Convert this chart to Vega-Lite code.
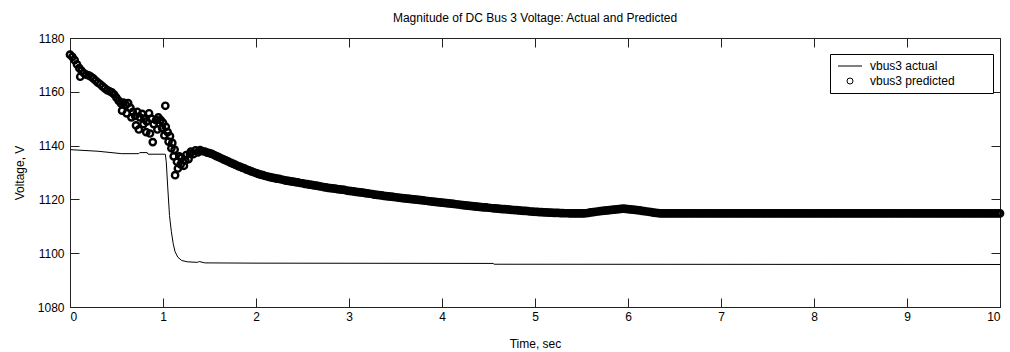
{
  "$schema": "https://vega.github.io/schema/vega-lite/v6.json",
  "width": 930,
  "height": 269,
  "autosize": "none",
  "padding": {"left": 70, "top": 38, "right": 10, "bottom": 45},
  "background": "white",
  "title": {"text": "Magnitude of DC Bus 3 Voltage: Actual and Predicted", "fontSize": 12, "fontWeight": "normal", "font": "Liberation Sans", "color": "#000", "offset": 7, "anchor": "middle"},
  "config": {
    "view": {"stroke": "#222", "strokeWidth": 1},
    "axis": {"grid": false, "domainColor": "#222", "tickColor": "#222", "labelFont": "Liberation Sans", "labelFontSize": 12, "labelColor": "#000", "titleFont": "Liberation Sans", "titleFontSize": 12, "titleFontWeight": "normal", "titleColor": "#000"}
  },
  "datasets": {
    "actual": [
      {"t": 0, "v": 1138.5}, {"t": 0.3, "v": 1137.9}, {"t": 0.556, "v": 1137.0}, {"t": 0.74, "v": 1137.0}, {"t": 0.75, "v": 1137.4}, {"t": 0.83, "v": 1137.4}, {"t": 0.84, "v": 1136.8}, {"t": 1.025, "v": 1136.8},
      {"t": 1.035, "v": 1134}, {"t": 1.05, "v": 1125}, {"t": 1.07, "v": 1114}, {"t": 1.09, "v": 1108}, {"t": 1.11, "v": 1103.5}, {"t": 1.13, "v": 1100.5}, {"t": 1.16, "v": 1098.5}, {"t": 1.2, "v": 1097.3}, {"t": 1.26, "v": 1096.8}, {"t": 1.37, "v": 1096.6}, {"t": 1.39, "v": 1096.9}, {"t": 1.45, "v": 1096.4}, {"t": 2, "v": 1096.3}, {"t": 4.55, "v": 1096.2}, {"t": 4.56, "v": 1095.9}, {"t": 10, "v": 1095.8}
    ],
    "predicted": [
      {"t":0.000,"v":1173.8},{"t":0.025,"v":1173.0},{"t":0.050,"v":1171.8},{"t":0.075,"v":1170.2},{"t":0.100,"v":1168.8},{"t":0.110,"v":1165.6},{"t":0.125,"v":1167.8},{"t":0.150,"v":1166.9},{"t":0.175,"v":1166.4},{"t":0.200,"v":1166.1},
      {"t":0.225,"v":1165.6},{"t":0.250,"v":1165.0},{"t":0.275,"v":1164.2},{"t":0.300,"v":1163.4},{"t":0.325,"v":1162.8},{"t":0.350,"v":1162.0},{"t":0.375,"v":1161.3},{"t":0.400,"v":1160.6},{"t":0.425,"v":1160.2},{"t":0.450,"v":1159.8},
      {"t":0.475,"v":1159.0},{"t":0.500,"v":1157.8},{"t":0.525,"v":1156.6},{"t":0.550,"v":1155.6},{"t":0.560,"v":1153.0},{"t":0.575,"v":1156.0},{"t":0.600,"v":1155.2},{"t":0.610,"v":1152.0},{"t":0.625,"v":1155.8},{"t":0.650,"v":1154.0},
      {"t":0.660,"v":1150.5},{"t":0.675,"v":1152.5},{"t":0.700,"v":1151.0},{"t":0.710,"v":1147.5},{"t":0.725,"v":1152.5},{"t":0.740,"v":1146.0},{"t":0.750,"v":1150.5},{"t":0.775,"v":1151.8},{"t":0.790,"v":1148.0},{"t":0.800,"v":1150.0},
      {"t":0.820,"v":1145.0},{"t":0.825,"v":1149.0},{"t":0.850,"v":1152.0},{"t":0.860,"v":1144.5},{"t":0.875,"v":1150.0},{"t":0.890,"v":1141.3},{"t":0.900,"v":1148.0},{"t":0.925,"v":1149.5},{"t":0.940,"v":1146.0},{"t":0.950,"v":1150.5},
      {"t":0.975,"v":1149.5},{"t":0.990,"v":1146.5},{"t":1.000,"v":1148.5},{"t":1.015,"v":1143.8},{"t":1.025,"v":1154.8},{"t":1.030,"v":1147.0},{"t":1.050,"v":1145.0},{"t":1.060,"v":1141.5},{"t":1.075,"v":1143.5},{"t":1.090,"v":1139.0},
      {"t":1.100,"v":1141.0},{"t":1.115,"v":1136.0},{"t":1.125,"v":1138.5},{"t":1.130,"v":1129.0},{"t":1.150,"v":1134.0},{"t":1.160,"v":1131.5},{"t":1.175,"v":1136.0},{"t":1.190,"v":1133.0},{"t":1.200,"v":1135.5},{"t":1.225,"v":1132.5},
      {"t":1.240,"v":1134.5},{"t":1.250,"v":1136.5},{"t":1.275,"v":1135.0},{"t":1.290,"v":1137.0},{"t":1.300,"v":1137.8},{"t":1.325,"v":1136.8},{"t":1.350,"v":1138.2},{"t":1.375,"v":1137.5},{"t":1.400,"v":1138.3},{"t":1.425,"v":1137.9},
      {"t":1.450,"v":1137.8},{"t":1.475,"v":1137.4},
      {"t":1.500,"v":1137.2},{"t":1.525,"v":1136.9},{"t":1.550,"v":1136.5},{"t":1.575,"v":1136.1},{"t":1.600,"v":1135.7},{"t":1.625,"v":1135.3},{"t":1.650,"v":1134.9},{"t":1.675,"v":1134.5},{"t":1.700,"v":1134.1},{"t":1.725,"v":1133.7},
      {"t":1.750,"v":1133.3},{"t":1.775,"v":1132.9},{"t":1.800,"v":1132.5},{"t":1.825,"v":1132.2},{"t":1.850,"v":1131.8},{"t":1.875,"v":1131.5},{"t":1.900,"v":1131.1},{"t":1.925,"v":1130.8},{"t":1.950,"v":1130.4},{"t":1.975,"v":1130.1},
      {"t":2.000,"v":1129.8},{"t":2.025,"v":1129.5},{"t":2.050,"v":1129.2},{"t":2.075,"v":1129.0},{"t":2.100,"v":1128.7},{"t":2.125,"v":1128.5},{"t":2.150,"v":1128.3},{"t":2.175,"v":1128.1},{"t":2.200,"v":1127.9},{"t":2.225,"v":1127.7},
      {"t":2.250,"v":1127.6},{"t":2.275,"v":1127.4},{"t":2.300,"v":1127.2},{"t":2.325,"v":1127.0},{"t":2.350,"v":1126.9},{"t":2.375,"v":1126.7},{"t":2.400,"v":1126.6},{"t":2.425,"v":1126.4},{"t":2.450,"v":1126.3},{"t":2.475,"v":1126.1},
      {"t":2.500,"v":1126.0},{"t":2.525,"v":1125.8},{"t":2.550,"v":1125.7},{"t":2.575,"v":1125.5},{"t":2.600,"v":1125.4},{"t":2.625,"v":1125.2},{"t":2.650,"v":1125.1},{"t":2.675,"v":1124.9},{"t":2.700,"v":1124.8},{"t":2.725,"v":1124.6},
      {"t":2.750,"v":1124.5},{"t":2.775,"v":1124.3},{"t":2.800,"v":1124.2},{"t":2.825,"v":1124.1},{"t":2.850,"v":1124.0},{"t":2.875,"v":1123.8},{"t":2.900,"v":1123.7},{"t":2.925,"v":1123.6},{"t":2.950,"v":1123.5},{"t":2.975,"v":1123.3},
      {"t":3.000,"v":1123.2},{"t":3.025,"v":1123.1},{"t":3.050,"v":1123.0},{"t":3.075,"v":1122.8},{"t":3.100,"v":1122.7},{"t":3.125,"v":1122.6},{"t":3.150,"v":1122.5},{"t":3.175,"v":1122.3},{"t":3.200,"v":1122.2},{"t":3.225,"v":1122.1},
      {"t":3.250,"v":1122.0},{"t":3.275,"v":1121.8},{"t":3.300,"v":1121.7},{"t":3.325,"v":1121.6},{"t":3.350,"v":1121.5},{"t":3.375,"v":1121.3},{"t":3.400,"v":1121.2},{"t":3.425,"v":1121.1},{"t":3.450,"v":1121.0},{"t":3.475,"v":1120.9},
      {"t":3.500,"v":1120.8},{"t":3.525,"v":1120.7},{"t":3.550,"v":1120.6},{"t":3.575,"v":1120.5},{"t":3.600,"v":1120.4},{"t":3.625,"v":1120.3},{"t":3.650,"v":1120.2},{"t":3.675,"v":1120.1},{"t":3.700,"v":1120.0},{"t":3.725,"v":1119.9},
      {"t":3.750,"v":1119.8},{"t":3.775,"v":1119.7},{"t":3.800,"v":1119.6},{"t":3.825,"v":1119.5},{"t":3.850,"v":1119.4},{"t":3.875,"v":1119.3},{"t":3.900,"v":1119.2},{"t":3.925,"v":1119.1},{"t":3.950,"v":1119.0},{"t":3.975,"v":1118.9},
      {"t":4.000,"v":1118.8},{"t":4.025,"v":1118.7},{"t":4.050,"v":1118.6},{"t":4.075,"v":1118.5},{"t":4.100,"v":1118.4},{"t":4.125,"v":1118.3},{"t":4.150,"v":1118.2},{"t":4.175,"v":1118.1},{"t":4.200,"v":1118.0},{"t":4.225,"v":1117.9},
      {"t":4.250,"v":1117.8},{"t":4.275,"v":1117.7},{"t":4.300,"v":1117.6},{"t":4.325,"v":1117.5},{"t":4.350,"v":1117.4},{"t":4.375,"v":1117.3},{"t":4.400,"v":1117.2},{"t":4.425,"v":1117.1},{"t":4.450,"v":1117.05},{"t":4.475,"v":1117.0},
      {"t":4.500,"v":1116.9},{"t":4.525,"v":1116.8},{"t":4.550,"v":1116.7},{"t":4.575,"v":1116.65},{"t":4.600,"v":1116.6},{"t":4.625,"v":1116.5},{"t":4.650,"v":1116.4},{"t":4.675,"v":1116.35},{"t":4.700,"v":1116.3},{"t":4.725,"v":1116.2},
      {"t":4.750,"v":1116.1},{"t":4.775,"v":1116.05},{"t":4.800,"v":1116.0},{"t":4.825,"v":1115.9},{"t":4.850,"v":1115.8},{"t":4.875,"v":1115.75},{"t":4.900,"v":1115.7},{"t":4.925,"v":1115.6},{"t":4.950,"v":1115.5},{"t":4.975,"v":1115.45},
      {"t":5.000,"v":1115.4},{"t":5.025,"v":1115.35},{"t":5.050,"v":1115.3},{"t":5.075,"v":1115.25},{"t":5.100,"v":1115.2},{"t":5.125,"v":1115.15},{"t":5.150,"v":1115.1},{"t":5.175,"v":1115.05},{"t":5.200,"v":1115.0},{"t":5.225,"v":1115.0},
      {"t":5.250,"v":1114.95},{"t":5.275,"v":1114.9},{"t":5.300,"v":1114.9},{"t":5.325,"v":1114.85},{"t":5.350,"v":1114.85},{"t":5.375,"v":1114.8},{"t":5.400,"v":1114.8},{"t":5.425,"v":1114.8},{"t":5.450,"v":1114.8},{"t":5.475,"v":1114.8},
      {"t":5.500,"v":1114.8},{"t":5.525,"v":1114.8},{"t":5.550,"v":1114.85},{"t":5.575,"v":1115.0},{"t":5.600,"v":1115.2},{"t":5.625,"v":1115.3},{"t":5.650,"v":1115.4},{"t":5.675,"v":1115.5},{"t":5.700,"v":1115.6},{"t":5.725,"v":1115.7},
      {"t":5.750,"v":1115.8},{"t":5.775,"v":1115.9},{"t":5.800,"v":1116.0},{"t":5.825,"v":1116.1},{"t":5.850,"v":1116.2},{"t":5.875,"v":1116.3},{"t":5.900,"v":1116.4},{"t":5.925,"v":1116.5},{"t":5.950,"v":1116.6},{"t":5.975,"v":1116.5},
      {"t":6.000,"v":1116.4},{"t":6.025,"v":1116.3},{"t":6.050,"v":1116.2},{"t":6.075,"v":1116.1},{"t":6.100,"v":1116.0},{"t":6.125,"v":1115.9},{"t":6.150,"v":1115.75},{"t":6.175,"v":1115.6},{"t":6.200,"v":1115.5},{"t":6.225,"v":1115.4},
      {"t":6.250,"v":1115.25},{"t":6.275,"v":1115.1},{"t":6.300,"v":1115.0},{"t":6.325,"v":1114.9},{"t":6.350,"v":1114.8},{"t":6.375,"v":1114.8},{"t":6.400,"v":1114.8},{"t":6.425,"v":1114.8},{"t":6.450,"v":1114.8},{"t":6.475,"v":1114.8},
      {"t":6.500,"v":1114.8},{"t":6.525,"v":1114.8},{"t":6.550,"v":1114.8},{"t":6.575,"v":1114.8},{"t":6.600,"v":1114.8},{"t":6.625,"v":1114.8},{"t":6.650,"v":1114.8},{"t":6.675,"v":1114.8},{"t":6.700,"v":1114.8},{"t":6.725,"v":1114.8},
      {"t":6.750,"v":1114.8},{"t":6.775,"v":1114.8},{"t":6.800,"v":1114.8},{"t":6.825,"v":1114.8},{"t":6.850,"v":1114.8},{"t":6.875,"v":1114.8},{"t":6.900,"v":1114.8},{"t":6.925,"v":1114.8},{"t":6.950,"v":1114.8},{"t":6.975,"v":1114.8},
      {"t":7.000,"v":1114.8},{"t":7.025,"v":1114.8},{"t":7.050,"v":1114.8},{"t":7.075,"v":1114.8},{"t":7.100,"v":1114.8},{"t":7.125,"v":1114.8},{"t":7.150,"v":1114.8},{"t":7.175,"v":1114.8},{"t":7.200,"v":1114.8},{"t":7.225,"v":1114.8},
      {"t":7.250,"v":1114.8},{"t":7.275,"v":1114.8},{"t":7.300,"v":1114.8},{"t":7.325,"v":1114.8},{"t":7.350,"v":1114.8},{"t":7.375,"v":1114.8},{"t":7.400,"v":1114.8},{"t":7.425,"v":1114.8},{"t":7.450,"v":1114.8},{"t":7.475,"v":1114.8},
      {"t":7.500,"v":1114.8},{"t":7.525,"v":1114.8},{"t":7.550,"v":1114.8},{"t":7.575,"v":1114.8},{"t":7.600,"v":1114.8},{"t":7.625,"v":1114.8},{"t":7.650,"v":1114.8},{"t":7.675,"v":1114.8},{"t":7.700,"v":1114.8},{"t":7.725,"v":1114.8},
      {"t":7.750,"v":1114.8},{"t":7.775,"v":1114.8},{"t":7.800,"v":1114.8},{"t":7.825,"v":1114.8},{"t":7.850,"v":1114.8},{"t":7.875,"v":1114.8},{"t":7.900,"v":1114.8},{"t":7.925,"v":1114.8},{"t":7.950,"v":1114.8},{"t":7.975,"v":1114.8},
      {"t":8.000,"v":1114.8},{"t":8.025,"v":1114.8},{"t":8.050,"v":1114.8},{"t":8.075,"v":1114.8},{"t":8.100,"v":1114.8},{"t":8.125,"v":1114.8},{"t":8.150,"v":1114.8},{"t":8.175,"v":1114.8},{"t":8.200,"v":1114.8},{"t":8.225,"v":1114.8},
      {"t":8.250,"v":1114.8},{"t":8.275,"v":1114.8},{"t":8.300,"v":1114.8},{"t":8.325,"v":1114.8},{"t":8.350,"v":1114.8},{"t":8.375,"v":1114.8},{"t":8.400,"v":1114.8},{"t":8.425,"v":1114.8},{"t":8.450,"v":1114.8},{"t":8.475,"v":1114.8},
      {"t":8.500,"v":1114.8},{"t":8.525,"v":1114.8},{"t":8.550,"v":1114.8},{"t":8.575,"v":1114.8},{"t":8.600,"v":1114.8},{"t":8.625,"v":1114.8},{"t":8.650,"v":1114.8},{"t":8.675,"v":1114.8},{"t":8.700,"v":1114.8},{"t":8.725,"v":1114.8},
      {"t":8.750,"v":1114.8},{"t":8.775,"v":1114.8},{"t":8.800,"v":1114.8},{"t":8.825,"v":1114.8},{"t":8.850,"v":1114.8},{"t":8.875,"v":1114.8},{"t":8.900,"v":1114.8},{"t":8.925,"v":1114.8},{"t":8.950,"v":1114.8},{"t":8.975,"v":1114.8},
      {"t":9.000,"v":1114.8},{"t":9.025,"v":1114.8},{"t":9.050,"v":1114.8},{"t":9.075,"v":1114.8},{"t":9.100,"v":1114.8},{"t":9.125,"v":1114.8},{"t":9.150,"v":1114.8},{"t":9.175,"v":1114.8},{"t":9.200,"v":1114.8},{"t":9.225,"v":1114.8},
      {"t":9.250,"v":1114.8},{"t":9.275,"v":1114.8},{"t":9.300,"v":1114.8},{"t":9.325,"v":1114.8},{"t":9.350,"v":1114.8},{"t":9.375,"v":1114.8},{"t":9.400,"v":1114.8},{"t":9.425,"v":1114.8},{"t":9.450,"v":1114.8},{"t":9.475,"v":1114.8},
      {"t":9.500,"v":1114.8},{"t":9.525,"v":1114.8},{"t":9.550,"v":1114.8},{"t":9.575,"v":1114.8},{"t":9.600,"v":1114.8},{"t":9.625,"v":1114.8},{"t":9.650,"v":1114.8},{"t":9.675,"v":1114.8},{"t":9.700,"v":1114.8},{"t":9.725,"v":1114.8},
      {"t":9.750,"v":1114.8},{"t":9.775,"v":1114.8},{"t":9.800,"v":1114.8},{"t":9.825,"v":1114.8},{"t":9.850,"v":1114.8},{"t":9.875,"v":1114.8},{"t":9.900,"v":1114.8},{"t":9.925,"v":1114.8},{"t":9.950,"v":1114.8},{"t":9.975,"v":1114.8},
      {"t":10.000,"v":1114.8}
    ]
  },
  "layer": [
    {
      "data": {"name": "actual"},
      "mark": {"type": "line", "color": "#000", "strokeWidth": 1},
      "encoding": {
        "x": {"field": "t", "type": "quantitative", "scale": {"domain": [0, 10], "nice": false}, "axis": {"orient": "bottom", "values": [0,1,2,3,4,5,6,7,8,9,10], "tickSize": -9, "labelPadding": 13, "title": "Time, sec", "titlePadding": 16}},
        "y": {"field": "v", "type": "quantitative", "scale": {"domain": [1080, 1180], "nice": false, "zero": false}, "axis": {"orient": "left", "values": [1080,1100,1120,1140,1160,1180], "format": "d", "tickSize": -9, "labelPadding": 15, "title": "Voltage, V", "titlePadding": 11}}
      }
    },
    {
      "data": {"name": "predicted"},
      "mark": {"type": "point", "shape": "circle", "filled": false, "color": "#000", "size": 40, "strokeWidth": 2.4, "opacity": 1},
      "encoding": {
        "x": {"field": "t", "type": "quantitative", "axis": {"orient": "top", "values": [0,1,2,3,4,5,6,7,8,9,10], "tickSize": -9, "labels": false, "title": null}},
        "y": {"field": "v", "type": "quantitative", "axis": {"orient": "right", "values": [1080,1100,1120,1140,1160,1180], "tickSize": -9, "labels": false, "title": null}},
        "shape": {"datum": "vbus3 predicted", "scale": {"domain": ["vbus3 actual", "vbus3 predicted"], "range": ["M-4,0H4", "circle"]},
          "legend": {"orient": "none", "legendX": 760, "legendY": 16, "title": "\u00a0", "titleOrient": "right", "titlePadding": 32, "titleFontSize": 12, "fillColor": "#fff", "strokeColor": "#000", "padding": 6, "symbolSize": 36, "symbolOffset": 8, "labelOffset": 14, "labelFont": "Liberation Sans", "labelFontSize": 12, "labelColor": "#000", "rowPadding": 3, "symbolStrokeColor": "#000", "symbolFillColor": "transparent", "symbolStrokeWidth": 1}}
      }
    }
  ]
}
